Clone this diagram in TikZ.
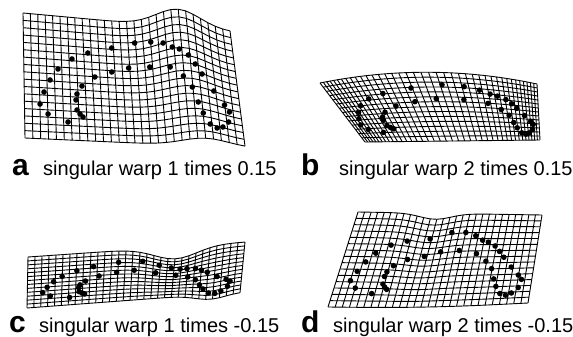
\documentclass[tikz,border=0pt]{standalone}
\usepackage{fontspec}
\setmainfont{Liberation Sans}
\newcommand\warpgrid[5]{% #1 prefix, #2 columns, #3 rows, #4 cols+1, #5 rows+1
  \foreach \ii in {0,...,#2} {
    \draw[gridline] plot[variable=\tv, domain=0:1, samples=#5] ({#1X(\ii/#2,\tv)},{#1Y(\ii/#2,\tv)});
  }
  \foreach \jj in {0,...,#3} {
    \draw[gridline] plot[variable=\tv, domain=0:1, samples=#4] ({#1X(\tv,\jj/#3)},{#1Y(\tv,\jj/#3)});
  }
}
\begin{document}
\begin{tikzpicture}[x=1pt,y=-1pt,
  declare function={
    sq(\za)=(\za)*(\za);
    gs(\za,\zb,\zd)=exp(-sq((\za-\zb)/\zd));
    aL(\vv)=23+2*\vv; aR(\vv)=230+15*\vv;
    aT(\w)=13+19*\w-18*gs(\w,0.75,0.15);
    aB(\w)=138+10*\w-8*gs(\w,0.82,0.15);
    aX(\uu,\vv)=aL(\vv)+\uu*(aR(\vv)-aL(\vv));
    aY(\uu,\vv)=(1-\vv)*aT(\uu)+\vv*aB(\uu);
    nvz(\py)=(\py-14)/128;
    nu(\px,\py)=(\px-aL(nvz(\py)))/(aR(nvz(\py))-aL(nvz(\py)));
    nv(\px,\py)=(\py-aT(nu(\px,\py)))/(aB(nu(\px,\py))-aT(nu(\px,\py)));
    bg(\uu)=\uu-0.4*sin(360*\uu)/6.2832;
    bL(\vv)=320+45*\vv; bR(\vv)=537+3*\vv;
    bT(\w)=83+\w-45*\w*(1-\w);
    bB(\w)=142-2*\w;
    bX(\uu,\vv)=bL(\vv)+bg(\uu)*(bR(\vv)-bL(\vv));
    bY(\uu,\vv)=(1-\vv)*bT(bg(\uu))+\vv*bB(bg(\uu));
    cL(\vv)=28-\vv; cR(\vv)=245-5*\vv;
    cT(\w)=257-15*\w+12*gs(\w,0.68,0.14);
    cB(\w)=308-16*\w+5*gs(\w,0.86,0.1);
    cX(\uu,\vv)=cL(\vv)+\uu*(cR(\vv)-cL(\vv));
    cY(\uu,\vv)=(1-\vv)*cT(\uu)+\vv*cB(\uu);
    dL(\vv)=358-30*\vv; dR(\vv)=542-14*\vv;
    dT(\w)=212+3*\w+6*gs(\w,0.42,0.12);
    dB(\w)=307-4*\w+2*sin(180*\w);
    dX(\uu,\vv)=dL(\vv)+\uu*(dR(\vv)-dL(\vv));
    dY(\uu,\vv)=(1-\vv)*dT(\uu)+\vv*dB(\uu);
  },
  gridline/.style={line width=0.9pt, line join=round},
  landmark/.style={fill=black},
  panelletter/.style={font=\bfseries\fontsize{30}{30}\selectfont, anchor=base west, inner sep=0pt},
  caption/.style={font=\fontsize{20}{24}\selectfont, anchor=base west, inner sep=0pt}]
\useasboundingbox (0,0) rectangle (573,337);
\warpgrid{a}{28}{17}{29}{18}
\warpgrid{b}{40}{14}{41}{15}
\warpgrid{c}{31}{13}{32}{14}
\warpgrid{d}{28}{15}{29}{16}
\foreach \qx/\qy in {40/104,44/92,50/80,58/69,72/59,88/53,112/48,135/43,151/42,163/43,172/47,179/49,188/55,195/64,202/74,214/91,225/105,230/112,229/122,223/127,217/128,210/124,48/114,68/122,83/117,80/114,77/110,76/100,77/94,82/86,95/77,112/72,129/68,150/67,170/67,183/76,192/87,198/102,203/113} {
  \pgfmathsetmacro\du{nu(\qx,\qy)}
  \pgfmathsetmacro\dv{nv(\qx,\qy)}
  \fill[landmark] ({aX(\du,\dv)},{aY(\du,\dv)}) circle (2.8);
  \fill[landmark] ({bX(\du,\dv)},{bY(\du,\dv)}) circle (2.8);
  \fill[landmark] ({cX(\du,\dv)},{cY(\du,\dv)}) circle (2.8);
  \fill[landmark] ({dX(\du,\dv)},{dY(\du,\dv)}) circle (2.8);
}
\node[panelletter] (la) at (12,175) {a};
\node[caption] (ca) at (43,175) {singular warp 1 times 0.15};
\node[panelletter] (lb) at (301,175) {b};
\node[caption] (cb) at (339,175) {singular warp 2 times 0.15};
\node[panelletter] (lc) at (9,332) {c};
\node[caption] (cc) at (39,332) {singular warp 1 times -0.15};
\node[panelletter] (ld) at (301,332) {d};
\node[caption] (cd) at (333,332) {singular warp 2 times -0.15};
\end{tikzpicture}
\end{document}
